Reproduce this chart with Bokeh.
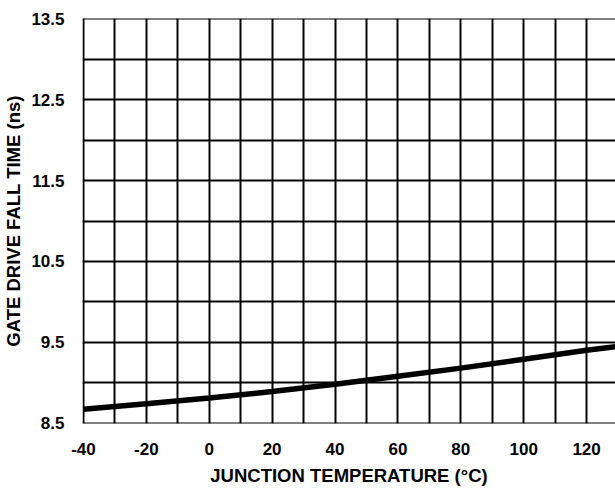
from bokeh.plotting import figure
from bokeh.models import FixedTicker, Range1d
from bokeh.embed import file_html
from bokeh.resources import INLINE

temps = [-40, -20, 0, 20, 40, 60, 80, 100, 120, 130]
fall_time = [8.67, 8.74, 8.81, 8.89, 8.98, 9.08, 9.18, 9.29, 9.40, 9.45]

x_ticks = [-40, -20, 0, 20, 40, 60, 80, 100, 120]
x_tick_labels = ["-40", "-20", "0", "20", "40", "60", "80", "100", "120"]
x_grid = [-40, -30, -20, -10, 0, 10, 20, 30, 40, 50, 60, 70, 80, 90, 100, 110, 120, 130]
y_ticks = [8.5, 9.5, 10.5, 11.5, 12.5, 13.5]
y_grid = [8.5, 9.0, 9.5, 10.0, 10.5, 11.0, 11.5, 12.0, 12.5, 13.0, 13.5]

p = figure(width=615, height=492, output_backend="svg", toolbar_location=None,
           x_range=Range1d(-40.3, 129.2), y_range=Range1d(8.495, 13.505),
           min_border_left=81, min_border_right=0, min_border_top=18, min_border_bottom=69)
p.outline_line_color = None

p.line(temps, fall_time, line_color="black", line_width=5.5)

FONT = "Liberation Sans"
for ax, ticks in ((p.xaxis, x_ticks), (p.yaxis, y_ticks)):
    ax.ticker = FixedTicker(ticks=ticks)
    ax.axis_line_color = None
    ax.major_tick_line_color = None
    ax.minor_tick_line_color = None
    ax.major_label_text_font = FONT
    ax.major_label_text_font_style = "bold"
    ax.major_label_text_font_size = "17px"
    ax.major_label_text_color = "black"
    ax.axis_label_text_font = FONT
    ax.axis_label_text_font_style = "bold"
    ax.axis_label_text_font_size = "18.5px"
    ax.axis_label_text_color = "black"

p.xaxis.major_label_overrides = dict(zip(x_ticks, x_tick_labels))
p.xaxis.axis_label = "JUNCTION TEMPERATURE (°C)"
p.yaxis.axis_label = "GATE DRIVE FALL TIME (ns)"
p.xaxis.major_label_standoff = 13
p.yaxis.major_label_standoff = 12
p.xaxis.axis_label_standoff = 7
p.yaxis.axis_label_standoff = 4

p.xgrid.ticker = FixedTicker(ticks=x_grid)
p.ygrid.ticker = FixedTicker(ticks=y_grid)
for g in (p.xgrid, p.ygrid):
    g.grid_line_color = "black"
    g.grid_line_width = 2
    g.grid_line_alpha = 1.0

open("out.html", "w").write(file_html(p, INLINE))
